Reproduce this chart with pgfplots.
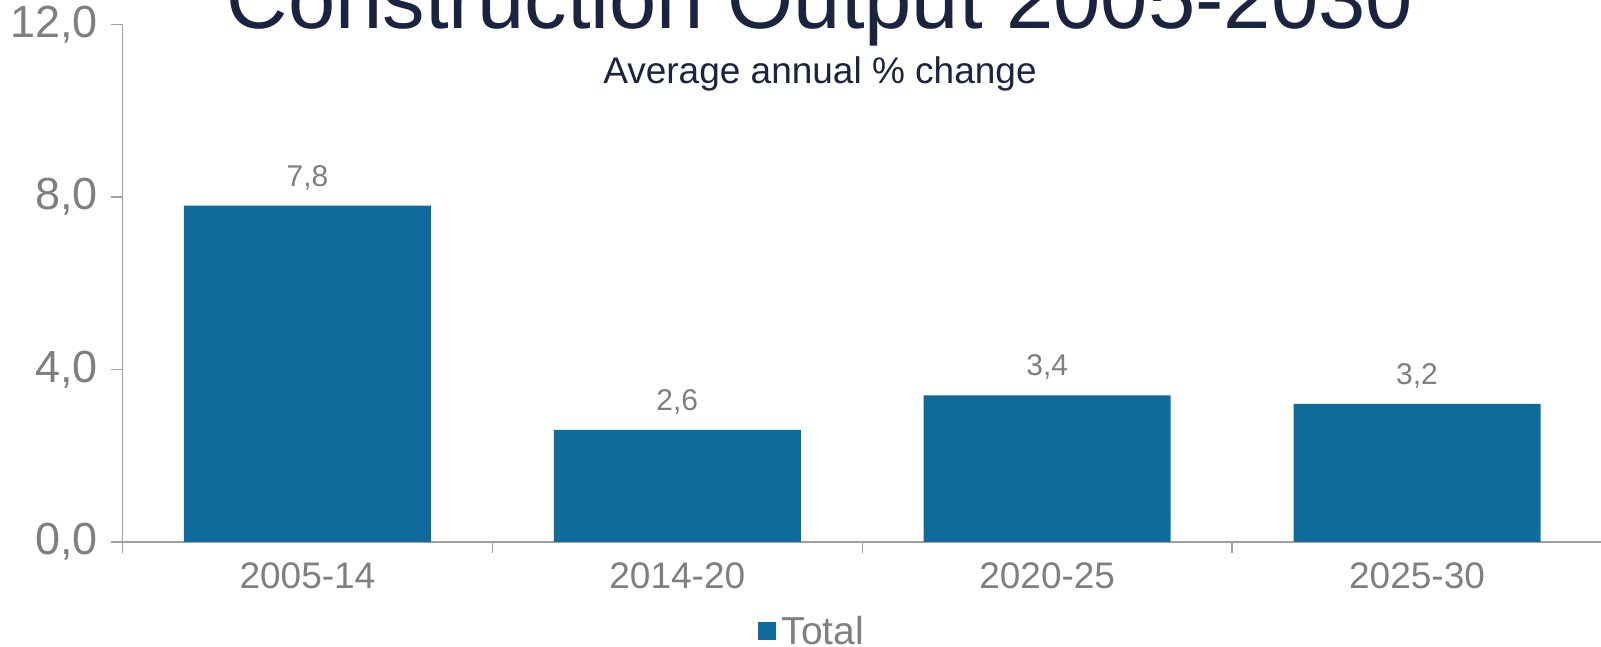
\documentclass[border=0pt]{standalone}
\usepackage{fontspec}
\setmainfont{Liberation Sans}
\usepackage{pgfplots}
\pgfplotsset{compat=1.18}
\definecolor{barblue}{HTML}{0F6B9C}
\definecolor{axisgray}{HTML}{A0A0A0}
\definecolor{labelgray}{HTML}{7F7F7F}
\definecolor{titlenavy}{HTML}{1A2340}
\begin{document}
\begin{tikzpicture}[x=1pt,y=1pt]
\begin{axis}[
  at={(122.5pt,105pt)}, anchor=south west,
  scale only axis,
  width=1479.5pt, height=517.5pt,
  xmin=-0.5, xmax=3.5,
  ymin=0, ymax=12,
  axis x line*=bottom, axis y line*=left,
  axis line style={axisgray, line width=1.3pt},
  xtick={0,1,2,3},
  xticklabels={2005-14,2014-20,2020-25,2025-30},
  minor xtick={-0.5,0.5,1.5,2.5,3.5},
  ytick={0,4,8,12},
  tick align=outside,
  major tick length=11pt, minor tick length=11pt,
  tick style={axisgray, line width=1.3pt},
  major x tick style={draw=none},
  /pgf/number format/assume math mode=true,
  yticklabel={\pgfmathprintnumber[fixed,fixed zerofill,precision=1,use comma]{\tick}},
  ticklabel style={font=\fontsize{37}{44}\selectfont, text=labelgray},
  xticklabel style={yshift=-6pt},
  yticklabel style={font=\fontsize{45}{52}\selectfont, xshift=-10pt},
  ybar, bar width=247pt,
  nodes near coords={\pgfmathprintnumber[fixed,fixed zerofill,precision=1,use comma]{\pgfplotspointmeta}},
  nodes near coords style={font=\fontsize{30}{34}\selectfont, text=labelgray, anchor=south, yshift=12pt},
  legend style={at={(0.466,-0.172)}, anchor=center, draw=none, fill=none,
    font=\fontsize{39}{44}\selectfont, text=labelgray, inner sep=0pt,
    /tikz/every odd column/.append style={column sep=4pt}},
  legend cell align=left,
  legend image code/.code={\fill[barblue] (0pt,-9pt) rectangle (18pt,9pt);},
  clip=false,
]
\addplot[fill=barblue, draw=none] coordinates {(0,7.8) (1,2.6) (2,3.4) (3,3.2)};
\addlegendentry{Total}
\end{axis}
\node[anchor=base, text=titlenavy, font=\fontsize{85}{95}\selectfont, inner sep=0pt] at (820pt,618pt) {Construction Output 2005-2030};
\node[anchor=base, text=titlenavy, font=\fontsize{37}{44}\selectfont, inner sep=0pt] at (820pt,563pt) {Average annual \% change};
\pgfresetboundingbox
\path[use as bounding box] (0,0) rectangle (1601pt,647pt);
\end{tikzpicture}
\end{document}
